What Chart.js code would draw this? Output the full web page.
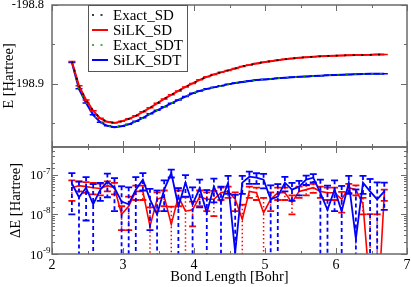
<!DOCTYPE html>
<html>
<head>
<meta charset="utf-8">
<script src="https://cdn.jsdelivr.net/npm/chart.js@4.4.1/dist/chart.umd.min.js"></script>
<style>
  html, body { margin: 0; padding: 0; background: #fff; }
  #wrap { position: relative; width: 411px; height: 287px; }
  #wrap canvas { position: absolute; left: 0; top: 0; }
</style>
</head>
<body>
<div id="wrap">
  <canvas id="energy" width="411" height="287"></canvas>
  <canvas id="delta" width="411" height="287"></canvas>
</div>
<script>
// bond lengths [Bohr]
const bondLength = [2.28, 2.38, 2.48, 2.58, 2.68, 2.78, 2.88, 2.98, 3.08, 3.18, 3.28, 3.38, 3.48, 3.58, 3.68,
  3.78, 3.88, 3.98, 4.08, 4.18, 4.28, 4.38, 4.48, 4.58, 4.68, 4.78, 4.88, 4.98, 5.08, 5.18, 5.28, 5.38, 5.48,
  5.58, 5.68, 5.78, 5.88, 5.98, 6.08, 6.18, 6.28, 6.38, 6.48, 6.58, 6.68];

// total energies [Hartree] (exact and SiLK traces coincide at this scale)
const energySD = [-198.8715, -198.9025, -198.9203, -198.9342, -198.9437, -198.9481, -198.9494, -198.9475,
  -198.9443, -198.9405, -198.9354, -198.9304, -198.9247, -198.9190, -198.9139, -198.9089, -198.9038, -198.8994,
  -198.8949, -198.8911, -198.8880, -198.8854, -198.8829, -198.8804, -198.8778, -198.8759, -198.8741, -198.8725,
  -198.8713, -198.8700, -198.8687, -198.8677, -198.8668, -198.8661, -198.8656, -198.8651, -198.8646, -198.8642,
  -198.8639, -198.8637, -198.8634, -198.8633, -198.8632, -198.8629, -198.8627];
const energySDT = [-198.8728, -198.9063, -198.9241, -198.9392, -198.9487, -198.9532, -198.9548, -198.9538,
  -198.9513, -198.9475, -198.9430, -198.9380, -198.9335, -198.9291, -198.9247, -198.9203, -198.9161, -198.9120,
  -198.9089, -198.9063, -198.9044, -198.9025, -198.9006, -198.8990, -198.8975, -198.8962, -198.8952, -198.8943,
  -198.8937, -198.8929, -198.8923, -198.8916, -198.8911, -198.8906, -198.8901, -198.8896, -198.8891, -198.8887,
  -198.8884, -198.8881, -198.8878, -198.8876, -198.8873, -198.8872, -198.8871];

// |SiLK - exact| [Hartree]
const deltaSD = [4.7e-8, 5.3e-8, 5.0e-8, 4.7e-8, 4.5e-8, 5.3e-8, 4.7e-8, 1.0e-8, 1.6e-8, 3.8e-8,
  3.8e-8, 5.0e-9, 2.4e-8, 2.8e-8, 5.6e-9, 2.8e-8, 1.2e-8, 1.3e-8, 2.8e-8, 2.4e-8,
  2.4e-8, 3.5e-8, 3.8e-8, 2.4e-8, 7.5e-9, 3.8e-8, 3.5e-8, 1.1e-8, 2.4e-8, 3.5e-8,
  3.5e-8, 2.0e-8, 3.8e-8, 4.2e-8, 4.7e-8, 3.8e-8, 3.5e-8, 3.5e-8, 2.4e-8, 4.7e-8,
  4.2e-8, 1.8e-8, 1.2e-10, 2.0e-11, 3.2e-8];
const deltaSDT = [6.0e-8, 2.7e-8, 4.7e-8, 1.8e-8, 4.2e-8, 6.7e-8, 4.7e-8, 2.1e-8, 1.8e-8, 4.2e-8,
  7.5e-8, 2.4e-8, 1.0e-8, 4.2e-8, 1.1e-7, 1.6e-8, 6.3e-8, 1.8e-8, 4.5e-8, 1.1e-8,
  5.0e-8, 2.0e-8, 6.3e-8, 1.1e-9, 6.3e-8, 8.9e-8, 8.4e-8, 7.5e-8, 2.4e-8, 2.8e-8,
  6.3e-8, 4.2e-8, 5.0e-8, 7.5e-8, 8.4e-8, 3.5e-8, 1.3e-8, 4.2e-8, 1.2e-8, 6.3e-8,
  2.4e-9, 6.3e-8, 3.8e-8, 2.4e-8, 3.8e-8];

// statistical errors [Hartree]
const sigmaSD = [2.5e-8, 1.5e-8, 1.5e-8, 1.5e-8, 1.5e-8, 1.5e-8, 1.5e-8, 6e-9, 1.2e-8, 1.5e-8,
  1.5e-8, 1e-8, 1.2e-8, 1.2e-8, 1e-8, 1.2e-8, 1.5e-8, 8e-9, 1.2e-8, 1.2e-8,
  1.5e-8, 1.2e-8, 1.2e-8, 1.2e-8, 1e-8, 1.2e-8, 1.2e-8, 1.5e-8, 1.2e-8, 1.2e-8,
  1.2e-8, 1e-8, 1.2e-8, 1.2e-8, 1.2e-8, 1.2e-8, 1.2e-8, 1.2e-8, 1.3e-8, 1.2e-8,
  1.2e-8, 8e-9, 1e-8, 1e-8, 1e-8];
const sigmaSDT = [5e-8, 4e-8, 4e-8, 4e-8, 2e-8, 4e-8, 3.5e-8, 3e-8, 3e-8, 4.5e-8,
  3.5e-8, 2e-8, 3e-8, 3e-8, 2.5e-8, 3e-8, 3.5e-8, 3e-8, 3e-8, 3e-8,
  3e-8, 3e-8, 3e-8, 3e-8, 3e-8, 3e-8, 2.5e-8, 3e-8, 3e-8, 3e-8,
  2.5e-8, 2e-8, 2e-8, 2e-8, 2e-8, 4e-8, 4e-8, 3e-8, 4e-8, 3e-8,
  4e-8, 3e-8, 4e-8, 4e-8, 2.5e-8];

const logTickLabels = [1e-9, 1e-8, 1e-7];

const serif = "'Liberation Serif', 'Times New Roman', serif";
Chart.defaults.font.family = serif;
Chart.defaults.color = '#000';
const frameColor = '#6a6a6a';

const pts = ys => bondLength.map((x, i) => ({ x: x, y: ys[i] }));
const fixWidth = w => s => { s.width = w; s.paddingTop = 0; s.paddingBottom = 0; };
const fixHeight = h => s => { s.height = h; s.paddingLeft = 0; s.paddingRight = 0; };
const near = (a, b) => Math.abs(a - b) < 1e-6;

// error bars drawn right after their own line
const errorBars = {
  id: 'errorBars',
  afterDatasetDraw(chart, args) {
    const ds = chart.data.datasets[args.index];
    const eb = ds.errorBars;
    if (!eb) return;
    const { ctx, chartArea: a } = chart;
    const xs = chart.scales.x, ys = chart.scales.y;
    const isLog = ys.type === 'logarithmic';
    ctx.save();
    ctx.beginPath();
    ctx.rect(a.left, a.top - 1, a.right - a.left, a.bottom - a.top + 1);
    ctx.clip();
    ctx.strokeStyle = ds.borderColor;
    ds.data.forEach((p, i) => {
      const px = xs.getPixelForValue(p.x);
      const hi = p.y + eb.err[i], lo = p.y - eb.err[i];
      const yHi = ys.getPixelForValue(hi);
      const loOut = isLog ? lo <= ys.min : lo < ys.min;
      const yLo = loOut ? a.bottom + 2 : ys.getPixelForValue(lo);
      ctx.setLineDash(eb.dash);
      ctx.lineWidth = eb.stem;
      ctx.beginPath();
      ctx.moveTo(px, yHi);
      ctx.lineTo(px, yLo);
      ctx.stroke();
      ctx.setLineDash([]);
      ctx.lineWidth = eb.cap;
      ctx.beginPath();
      ctx.moveTo(px - eb.half, yHi);
      ctx.lineTo(px + eb.half, yHi);
      if (!loOut) {
        ctx.moveTo(px - eb.half, yLo);
        ctx.lineTo(px + eb.half, yLo);
      }
      ctx.stroke();
    });
    ctx.restore();
  }
};

// grace-like frame with inward ticks on all sides
function makeFrame(yMajor) {
  return {
    id: 'frame',
    afterDraw(chart) {
      const { ctx, chartArea: a } = chart;
      const xs = chart.scales.x, ys = chart.scales.y;
      ctx.save();
      ctx.strokeStyle = frameColor;
      ctx.lineWidth = 1.5;
      ctx.strokeRect(a.left, a.top, a.right - a.left, a.bottom - a.top);
      ctx.lineWidth = 1;
      ctx.beginPath();
      xs.ticks.forEach(t => {
        if (!near(t.value * 2, Math.round(t.value * 2))) return;
        const len = near(t.value, Math.round(t.value)) ? 6 : 3;
        const px = Math.round(xs.getPixelForValue(t.value)) + 0.5;
        ctx.moveTo(px, a.bottom); ctx.lineTo(px, a.bottom - len);
        ctx.moveTo(px, a.top); ctx.lineTo(px, a.top + len);
      });
      ys.ticks.forEach(t => {
        const m = yMajor(t.value);
        if (m === null) return;
        const len = m ? 6 : 3;
        const py = Math.round(ys.getPixelForValue(t.value)) + 0.5;
        ctx.moveTo(a.left, py); ctx.lineTo(a.left + len, py);
        ctx.moveTo(a.right, py); ctx.lineTo(a.right - len, py);
      });
      ctx.stroke();
      ctx.restore();
    }
  };
}

const legendBox = {
  id: 'legendBox',
  afterDraw(chart) {
    const { ctx } = chart;
    const box = { x: 88, y: 5, w: 99, h: 66 };
    ctx.save();
    ctx.fillStyle = '#fff';
    ctx.fillRect(box.x, box.y, box.w, box.h);
    ctx.strokeStyle = '#555';
    ctx.lineWidth = 1;
    ctx.strokeRect(box.x + 0.5, box.y + 0.5, box.w, box.h);
    [0, 1, 2, 3].forEach((di, row) => {
      const ds = chart.data.datasets[di];
      const y = 15 + row * 15;
      ctx.strokeStyle = ds.borderColor;
      ctx.lineWidth = ds.borderWidth;
      ctx.setLineDash(ds.borderDash || []);
      ctx.beginPath();
      ctx.moveTo(92, y);
      ctx.lineTo(108, y);
      ctx.stroke();
      ctx.setLineDash([]);
      ctx.fillStyle = '#000';
      ctx.font = '15px ' + serif;
      ctx.textAlign = 'left';
      ctx.textBaseline = 'middle';
      ctx.fillText(ds.label, 113, y + 1);
    });
    ctx.restore();
  }
};

const logLabels = {
  id: 'logLabels',
  afterDraw(chart) {
    const { ctx } = chart;
    const ys = chart.scales.y;
    ctx.save();
    ctx.fillStyle = '#000';
    ctx.textBaseline = 'alphabetic';
    logTickLabels.forEach(v => {
      const py = ys.getPixelForValue(v);
      ctx.font = '13px ' + serif;
      ctx.textAlign = 'right';
      ctx.fillText('10', 43, py + 4.5);
      ctx.font = '9px ' + serif;
      ctx.textAlign = 'left';
      ctx.fillText(String(Math.round(Math.log10(v))), 43, py - 1);
    });
    ctx.restore();
  }
};

new Chart(document.getElementById('energy'), {
  type: 'line',
  data: {
    datasets: [
      { label: 'Exact_SD', data: pts(energySD), borderColor: '#000000', borderWidth: 1.6,
        borderDash: [2, 6.5], pointRadius: 0, tension: 0 },
      { label: 'SiLK_SD', data: pts(energySD), borderColor: '#ff0000', borderWidth: 2,
        pointRadius: 0, tension: 0,
        errorBars: { err: sigmaSD, dash: [], stem: 1.5, cap: 1.5, half: 3.5 } },
      { label: 'Exact_SDT', data: pts(energySDT), borderColor: '#00a000', borderWidth: 1.6,
        borderDash: [2, 6.5], pointRadius: 0, tension: 0 },
      { label: 'SiLK_SDT', data: pts(energySDT), borderColor: '#0000ff', borderWidth: 2,
        pointRadius: 0, tension: 0,
        errorBars: { err: sigmaSDT, dash: [], stem: 1.5, cap: 1.5, half: 3.5 } }
    ]
  },
  options: {
    responsive: false,
    animation: false,
    events: [],
    layout: { padding: { top: 5, right: 4, left: 0, bottom: 0 } },
    plugins: { legend: { display: false }, tooltip: { enabled: false } },
    scales: {
      x: {
        type: 'linear', min: 2, max: 7,
        ticks: { display: false, stepSize: 0.5 },
        grid: { display: false }, border: { display: false },
        afterFit: fixHeight(140)
      },
      y: {
        type: 'linear', min: -198.98, max: -198.8,
        ticks: {
          stepSize: 0.05, padding: 8, font: { size: 12.5 },
          callback: v => near(v * 10, Math.round(v * 10)) ? (Math.round(v * 10) / 10).toFixed(1) : ''
        },
        grid: { display: false, drawTicks: false }, border: { display: false },
        title: { display: true, text: 'E [Hartree]', font: { size: 14.5 }, padding: { top: 0, bottom: 0 } },
        afterFit: fixWidth(52)
      }
    }
  },
  plugins: [errorBars, makeFrame(v => {
    if (!near(v * 20, Math.round(v * 20))) return null;
    return near(v * 10, Math.round(v * 10));
  }), legendBox]
});

new Chart(document.getElementById('delta'), {
  type: 'line',
  data: {
    datasets: [
      { label: 'SiLK_SDT', data: pts(deltaSDT), borderColor: '#0000ff', borderWidth: 1.8,
        pointRadius: 0, tension: 0,
        errorBars: { err: sigmaSDT, dash: [4, 3], stem: 1.8, cap: 1.8, half: 3.5 } },
      { label: 'SiLK_SD', data: pts(deltaSD), borderColor: '#ff0000', borderWidth: 1.6,
        pointRadius: 0, tension: 0,
        errorBars: { err: sigmaSD, dash: [1.5, 2.5], stem: 1.5, cap: 1.8, half: 3.5 } }
    ]
  },
  options: {
    responsive: false,
    animation: false,
    events: [],
    layout: { padding: { top: 147, right: 4, left: 0, bottom: 0 } },
    plugins: { legend: { display: false }, tooltip: { enabled: false } },
    scales: {
      x: {
        type: 'linear', min: 2, max: 7,
        ticks: {
          stepSize: 0.5, padding: 3, font: { size: 14 },
          callback: v => near(v, Math.round(v)) ? String(Math.round(v)) : ''
        },
        grid: { display: false, drawTicks: false }, border: { display: false },
        title: { display: true, text: 'Bond Length [Bohr]', font: { size: 14.5 }, padding: { top: 0, bottom: 1 } },
        afterFit: fixHeight(33)
      },
      y: {
        type: 'logarithmic', min: 1e-9, max: 5e-7,
        ticks: { display: false },
        grid: { display: false, drawTicks: false }, border: { display: false },
        title: { display: true, text: 'ΔE [Hartree]', font: { size: 14.5 }, padding: { top: 7, bottom: 0 } },
        afterFit: fixWidth(52)
      }
    }
  },
  plugins: [errorBars, makeFrame(v => {
    const m = v / Math.pow(10, Math.floor(Math.log10(v) + 1e-9));
    return near(m, 1);
  }), logLabels]
});
</script>
</body>
</html>
